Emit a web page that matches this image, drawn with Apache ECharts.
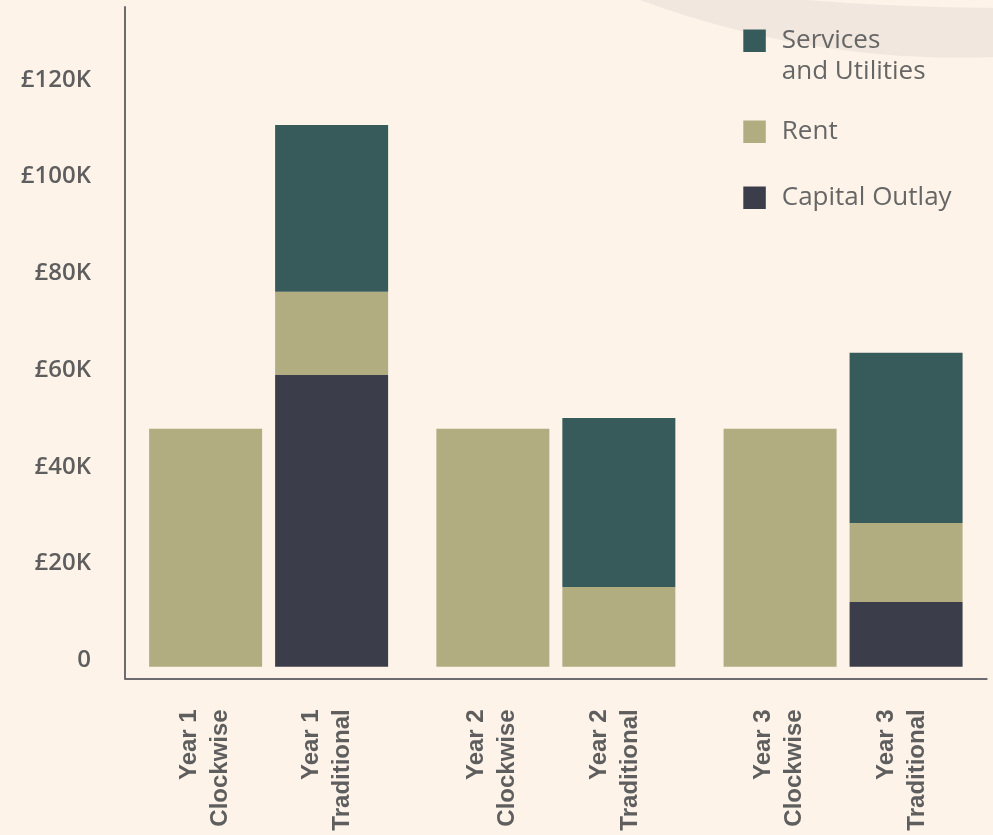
<!DOCTYPE html>
<html>
<head>
<meta charset="utf-8">
<script src="https://cdn.jsdelivr.net/npm/echarts@6/dist/echarts.min.js"></script>
<style>
  html, body { margin: 0; padding: 0; background: #fdf3e9; }
  #chart { width: 993px; height: 835px; }
</style>
</head>
<body>
<div id="chart"></div>
<script>
// ---- data ----
const categories = ['Year 1', 'Year 2', 'Year 3'];
const approaches = ['Clockwise', 'Traditional'];
const clockwiseRent = [49200, 49200, 49200];
const traditionalCapital = [60300, 0, 13400];
const traditionalRent = [17200, 16500, 16300];
const traditionalServices = [34500, 34900, 35200];
const yTicks = [0, 20000, 40000, 60000, 80000, 100000, 120000];
const seriesNames = ['Services and Utilities', 'Rent', 'Capital Outlay'];

// ---- styles ----
const C_SERV = '#375a5b';
const C_RENT = '#b1ad81';
const C_CAP = '#3c3d4a';
const BG = '#fdf3e9';
const TXT = '#5e5e5e';
const AXIS = '#6b6b70';

const chart = echarts.init(document.getElementById('chart'));

function legendCfg(name, top) {
  return {
    data: [name],
    left: 743.3,
    top: top,
    padding: 0,
    orient: 'vertical',
    icon: 'rect',
    itemWidth: 22.5,
    itemHeight: 22.5,
    formatter: function (n) {
      return n === 'Services and Utilities'
        ? '{g| }\n{a|Services}\n{a|and Utilities}'
        : '{a|' + n + '}';
    },
    textStyle: {
      padding: [0, 0, 0, 11],
      rich: {
        a: { fontFamily: 'Open Sans', fontSize: 26, fontWeight: 400, color: '#666666', lineHeight: 31 },
        g: { fontSize: 10, lineHeight: 31 }
      }
    }
  };
}

const barCommon = { type: 'bar', barWidth: 113, barGap: '11.5%' };

chart.setOption({
  backgroundColor: BG,
  animation: false,
  graphic: [
    { type: 'circle', z: -20, silent: true, shape: { cx: 960, cy: -860, r: 917.6 }, style: { fill: '#f1e7de' } },
    { type: 'circle', z: -19, silent: true, shape: { cx: 1003, cy: -2390, r: 2398 }, style: { fill: BG } }
  ],
  legend: [
    legendCfg('Services and Utilities', 4.75),
    legendCfg('Rent', 118.75),
    legendCfg('Capital Outlay', 184.75)
  ],
  grid: {
    left: 125, right: 6.3, top: 7, bottom: 156.7,
    containLabel: false,
    outerBoundsMode: 'none'
  },
  xAxis: {
    type: 'category',
    data: categories,
    axisTick: { show: false },
    axisLine: { show: true, onZero: false, lineStyle: { color: AXIS, width: 2 } },
    splitLine: { show: false },
    axisLabel: {
      interval: 0,
      rotate: 90,
      margin: 31,
      formatter: function (v) {
        return '{t|' + v + '}\n{t|' + approaches[0] + '}\n{g| }\n{t|' + v + '}\n{t|' + approaches[1] + '}\n{s| }';
      },
      rich: {
        t: { fontFamily: 'Liberation Sans', fontWeight: 'bold', fontSize: 24, color: TXT, lineHeight: 31, align: 'right' },
        g: { fontSize: 10, lineHeight: 60.5, align: 'right' },
        s: { fontSize: 5, lineHeight: 5, align: 'right' }
      }
    }
  },
  yAxis: {
    type: 'value',
    min: -2400,
    max: 136400,
    axisLine: { show: true, lineStyle: { color: AXIS, width: 2 } },
    axisTick: { show: false },
    splitLine: { show: false },
    axisLabel: {
      customValues: yTicks,
      margin: 34,
      formatter: function (v) {
        return '{a|' + (v === 0 ? '0' : '\u00a3' + (v / 1000) + 'K') + '}\n{b| }';
      },
      rich: {
        a: { fontFamily: 'Open Sans', fontWeight: 600, fontSize: 24, color: TXT, lineHeight: 26, align: 'right' },
        b: { fontSize: 5, lineHeight: 13, align: 'right' }
      }
    }
  },
  series: [
    Object.assign({ name: seriesNames[1], stack: 'clockwise', data: clockwiseRent, itemStyle: { color: C_RENT } }, barCommon),
    Object.assign({ name: seriesNames[2], stack: 'traditional', data: traditionalCapital, itemStyle: { color: C_CAP } }, barCommon),
    Object.assign({ name: seriesNames[1], stack: 'traditional', data: traditionalRent, itemStyle: { color: C_RENT } }, barCommon),
    Object.assign({ name: seriesNames[0], stack: 'traditional', data: traditionalServices, itemStyle: { color: C_SERV } }, barCommon)
  ]
});
</script>
</body>
</html>
